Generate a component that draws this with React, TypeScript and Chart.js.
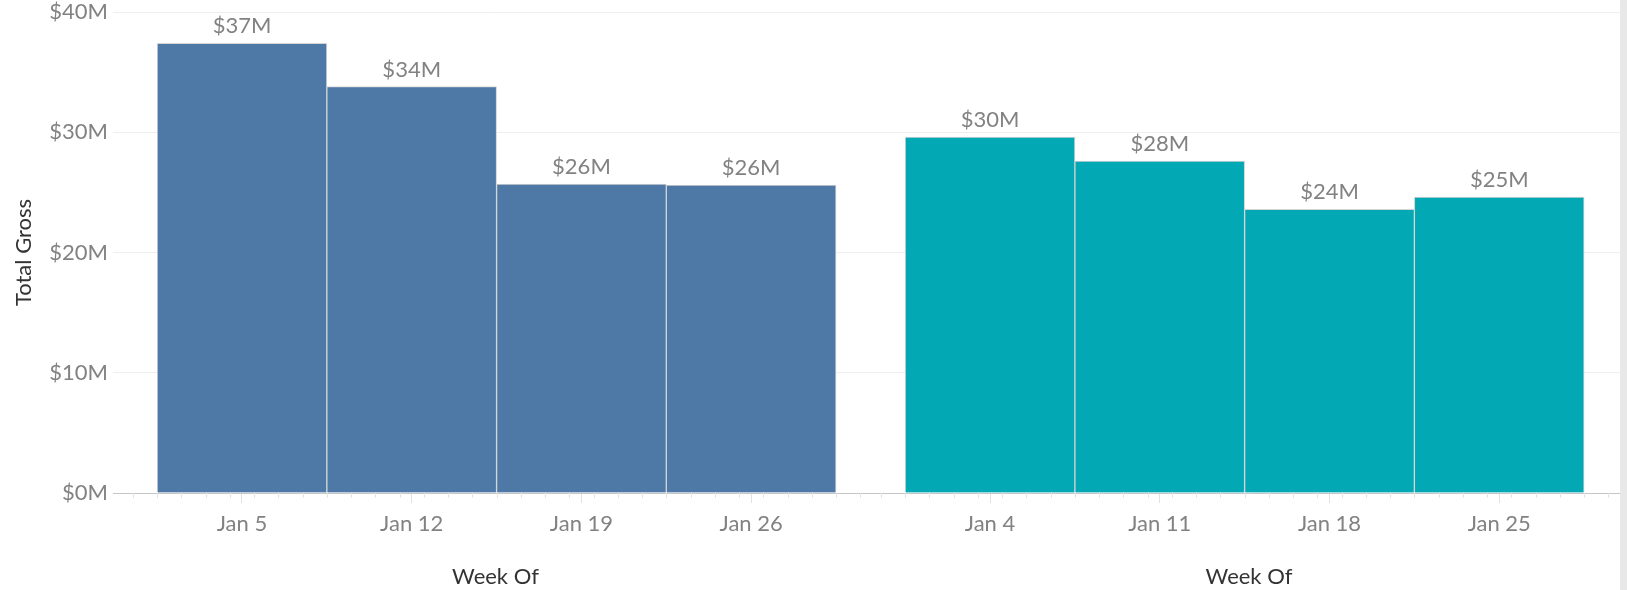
import React, { useEffect, useRef } from "react";
import { Chart, registerables } from "chart.js";

Chart.register(...registerables);

// ---- data ----
const monthLabel = "Jan";
const leftWeeks = [5, 12, 19, 26];
const leftGross = [37.4, 33.8, 25.7, 25.6];
const rightWeeks = [4, 11, 18, 25];
const rightGross = [29.6, 27.6, 23.6, 24.6];
const yTicks = [0, 10, 20, 30, 40];
const yTitle = "Total Gross";
const xTitle = "Week Of";

// ---- styles ----
const FONT = "Lato, 'Open Sans', sans-serif";
const BLUE = "#4e79a7";
const TEAL = "#02a9b4";
const LABEL_GRAY = "#828282";
const TITLE_GRAY = "#333333";

type PaneCfg = {
  weeks: number[];
  gross: number[];
  color: string;
  min: number;
  max: number;
  showY: boolean;
  left: number;
  width: number;
  padRight: number;
};

const panes: PaneCfg[] = [
  { weeks: leftWeeks, gross: leftGross, color: BLUE, min: -0.32, max: 31.23, showY: true, left: 0, width: 878, padRight: 0 },
  { weeks: rightWeeks, gross: rightGross, color: TEAL, min: -0.62, max: 29.98, showY: false, left: 878, width: 749, padRight: 7 },
];

const valueLabels = {
  id: "valueLabels",
  afterDatasetsDraw(chart: any) {
    const ctx = chart.ctx;
    const meta = chart.getDatasetMeta(0);
    const vals = chart.data.datasets[0].data as any[];
    ctx.save();
    ctx.font = `22px ${FONT}`;
    ctx.fillStyle = LABEL_GRAY;
    ctx.textAlign = "center";
    ctx.textBaseline = "middle";
    meta.data.forEach((bar: any, i: number) => {
      const v = vals[i].y;
      ctx.fillText(`$${Math.round(v)}M`, bar.x, bar.y - 17);
    });
    ctx.restore();
  },
};

const minorTicks = {
  id: "minorTicks",
  afterDraw(chart: any) {
    const xs = chart.scales.x;
    const ctx = chart.ctx;
    const bottom = chart.chartArea.bottom;
    ctx.save();
    ctx.strokeStyle = "#e4e4e4";
    ctx.lineWidth = 1;
    for (let v = Math.ceil(xs.min - 0.5) + 0.5; v <= xs.max; v += 1) {
      const px = Math.round(xs.getPixelForValue(v)) + 0.5;
      ctx.beginPath();
      ctx.moveTo(px, bottom);
      ctx.lineTo(px, bottom + 5);
      ctx.stroke();
    }
    ctx.restore();
  },
};

function Pane({ cfg }: { cfg: PaneCfg }) {
  const ref = useRef<HTMLCanvasElement>(null);
  useEffect(() => {
    const xFont = { family: FONT, size: 22, lineHeight: 1 };
    const yFont = { family: FONT, size: 22, lineHeight: 14 / 22 };
    const chart = new Chart(ref.current as HTMLCanvasElement, {
      type: "bar",
      data: {
        datasets: [
          {
            data: cfg.weeks.map((w, i) => ({ x: w, y: cfg.gross[i] })),
            backgroundColor: cfg.color,
            borderColor: "#d4d4d4",
            borderWidth: 1,
            barPercentage: 1,
            categoryPercentage: 1,
          },
        ],
      },
      options: {
        animation: false,
        responsive: true,
        maintainAspectRatio: false,
        layout: { padding: { top: 12, left: 0, right: cfg.padRight, bottom: 0 } },
        plugins: { legend: { display: false }, tooltip: { enabled: false } },
        scales: {
          x: {
            type: "linear",
            min: cfg.min,
            max: cfg.max,
            offset: false,
            afterBuildTicks: (s: any) => {
              s.ticks = cfg.weeks.map((v) => ({ value: v }));
            },
            ticks: {
              callback: (v: any) => `${monthLabel} ${v}`,
              font: xFont,
              color: LABEL_GRAY,
              padding: 10,
              maxRotation: 0,
              autoSkip: false,
            },
            grid: { drawOnChartArea: false, drawTicks: true, tickLength: 10, tickColor: "#e2e2e2", offset: false },
            border: { display: true, color: "#c6c6c6", dash: [3, 3], width: 1 },
            title: { display: true, text: xTitle, font: { family: FONT, size: 22 }, color: TITLE_GRAY, padding: { top: 0, bottom: 0 } },
            afterFit: (s: any) => {
              s.height = 97;
            },
          },
          y: {
            type: "linear",
            min: 0,
            max: 40,
            afterBuildTicks: (s: any) => {
              s.ticks = yTicks.map((v) => ({ value: v }));
            },
            ticks: {
              display: cfg.showY,
              callback: (v: any) => `$${v}M`,
              font: yFont,
              color: LABEL_GRAY,
              padding: 5,
            },
            grid: {
              color: (c: any) => (c.tick && c.tick.value === 0 ? "rgba(0,0,0,0)" : "#eeeeee"),
              drawTicks: false,
              lineWidth: 1,
            },
            border: { display: false },
            title: { display: cfg.showY, text: yTitle, font: { family: FONT, size: 22 }, color: TITLE_GRAY, padding: { top: 11, bottom: 0 } },
            afterFit: (s: any) => {
              s.width = cfg.showY ? 113 : 0;
            },
          },
        },
      } as any,
      plugins: [valueLabels, minorTicks],
    });
    return () => chart.destroy();
  }, [cfg]);
  return (
    <div style={{ position: "absolute", left: cfg.left, top: 0, width: cfg.width, height: 590 }}>
      <canvas ref={ref} />
    </div>
  );
}

export default function App() {
  return (
    <div style={{ position: "fixed", left: 0, top: 0, width: 1627, height: 590, background: "#ffffff", overflow: "hidden" }}>
      {panes.map((p, i) => (
        <Pane key={i} cfg={p} />
      ))}
      <div style={{ position: "absolute", left: 1620, top: 0, width: 7, height: 590, background: "#e8e8e8" }} />
    </div>
  );
}
